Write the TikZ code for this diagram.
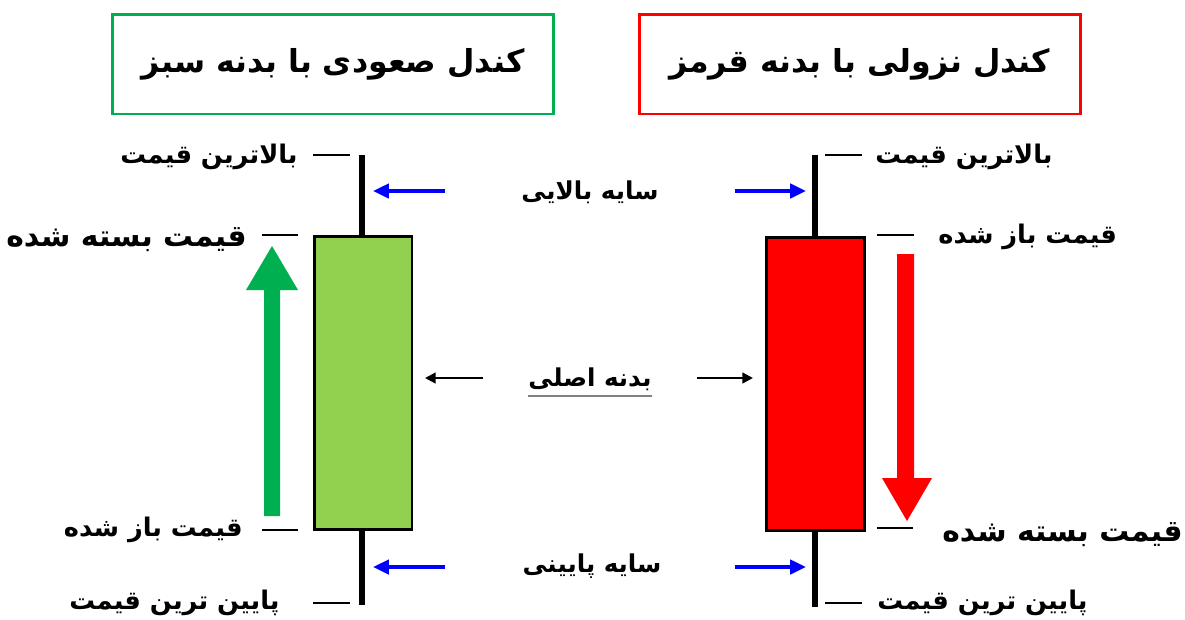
\documentclass[tikz,border=0pt]{standalone}
\usepackage{fontspec}
\usepackage{tikz}
\usetikzlibrary{positioning, arrows.meta}
\TeXXeTstate=1
\newfontfamily\fafont[Script=Arabic]{DejaVu Sans}
\newcommand{\fa}[1]{\beginR #1\endR}
\definecolor{BullGreen}{RGB}{146, 208, 80}
\definecolor{FrameGreen}{RGB}{0, 176, 80}
\definecolor{ShadowBlue}{RGB}{0, 0, 255}
\definecolor{BearRed}{RGB}{255, 0, 0}

\tikzset{
    titlebox/.style={line width=1.7pt, minimum width=8.84cm, minimum height=2cm,
        font=\fafont\bfseries\fontsize{18}{21}\selectfont},
    lbl/.style={inner sep=0pt, font=\fafont\bfseries\fontsize{14.6}{17}\selectfont},
    midlbl/.style={inner sep=0pt, font=\fafont\bfseries\fontsize{14}{16}\selectfont},
    biglbl/.style={inner sep=0pt, font=\fafont\bfseries\fontsize{17}{20}\selectfont},
    body/.style={draw, line width=1.7pt, minimum width=1.96cm, minimum height=5.86cm, inner sep=0pt},
    wick/.style={line width=3.4pt},
    tick/.style={line width=0.8pt},
    shadowarrow/.style={-{Triangle[length=9pt, width=8pt]}, line width=2.2pt, ShadowBlue},
    bodyarrow/.style={-{Triangle[length=6pt, width=6pt]}, line width=1.3pt}
}

\begin{document}
\begin{tikzpicture}[x=0.02cm, y=-0.02cm]
    \useasboundingbox (0,0) rectangle (1185,619);

    % Titles
    \node[titlebox, draw=FrameGreen] (upbox) at (333,64) {\fa{کندل صعودی با بدنه سبز}};
    \node[titlebox, draw=BearRed] (downbox) at (860,64) {\fa{کندل نزولی با بدنه قرمز}};

    % Bullish candle
    \coordinate (gtop) at (362,155);
    \coordinate (gbot) at (362,605);
    \draw[wick] (gtop) -- (gbot);
    \node[body, fill=BullGreen] (gbody) at (363,383) {};

    % Bullish ticks and labels
    \draw[tick] (313,155) coordinate (ghighl) -- (350,155) coordinate (ghighr);
    \draw[tick] (262,235) coordinate (gclosel) -- (298,235) coordinate (gcloser);
    \draw[tick] (262,530) coordinate (gopenl) -- (298,530) coordinate (gopenr);
    \draw[tick] (313,603) coordinate (glowl) -- (350,603) coordinate (glowr);
    \node[lbl, anchor=east] (ghigh) at (298,157) {\fa{بالاترین قیمت}};
    \node[biglbl, anchor=east] (gclose) at (247,240) {\fa{قیمت بسته شده}};
    \node[lbl, anchor=east] (gopen) at (243,530) {\fa{قیمت باز شده}};
    \node[lbl, anchor=east] (glow) at (280,603) {\fa{پایین ترین قیمت}};

    % Up arrow
    \fill[FrameGreen] (264,516) -- (264,290) -- (246,290) -- (272,246)
        -- (298,290) -- (280,290) -- (280,516) -- cycle;

    % Bearish candle
    \coordinate (rtop) at (815,155);
    \coordinate (rbot) at (815,607);
    \draw[wick] (rtop) -- (rbot);
    \node[body, fill=BearRed] (rbody) at (815,384) {};

    % Bearish ticks and labels
    \draw[tick] (825,155) coordinate (rhighl) -- (862,155) coordinate (rhighr);
    \draw[tick] (877,235) coordinate (ropenl) -- (914,235) coordinate (ropenr);
    \draw[tick] (877,528) coordinate (rclosel) -- (913,528) coordinate (rcloser);
    \draw[tick] (825,603) coordinate (rlowl) -- (862,603) coordinate (rlowr);
    \node[lbl, anchor=west] (rhigh) at (875,157) {\fa{بالاترین قیمت}};
    \node[lbl, anchor=west] (ropen) at (938,237) {\fa{قیمت باز شده}};
    \node[biglbl, anchor=west] (rclose) at (942,535) {\fa{قیمت بسته شده}};
    \node[lbl, anchor=west] (rlow) at (877,603) {\fa{پایین ترین قیمت}};

    % Down arrow
    \fill[BearRed] (897,254) -- (897,478) -- (882,478) -- (907,521)
        -- (932,478) -- (914,478) -- (914,254) -- cycle;

    % Middle labels
    \node[midlbl] (upshadow) at (590,192) {\fa{سایه بالایی}};
    \node[midlbl] (mainbody) at (590,379) {\fa{بدنه اصلی}};
    \node[midlbl] (lowshadow) at (592,566) {\fa{سایه پایینی}};
    \draw[gray, line width=0.8pt] ([yshift=-3pt]mainbody.south west) -- ([yshift=-3pt]mainbody.south east);

    % Shadow arrows
    \coordinate (gup1) at (445,191);
    \coordinate (gup2) at (373,191);
    \coordinate (gdn1) at (445,567);
    \coordinate (gdn2) at (373,567);
    \coordinate (rup1) at (735,191);
    \coordinate (rup2) at (806,191);
    \coordinate (rdn1) at (735,567);
    \coordinate (rdn2) at (806,567);
    \draw[shadowarrow] (gup1) -- (gup2);
    \draw[shadowarrow] (gdn1) -- (gdn2);
    \draw[shadowarrow] (rup1) -- (rup2);
    \draw[shadowarrow] (rdn1) -- (rdn2);

    % Body arrows
    \coordinate (gb1) at (483,378);
    \coordinate (gb2) at (425,378);
    \coordinate (rb1) at (697,378);
    \coordinate (rb2) at (753,378);
    \draw[bodyarrow] (gb1) -- (gb2);
    \draw[bodyarrow] (rb1) -- (rb2);
\end{tikzpicture}
\end{document}
